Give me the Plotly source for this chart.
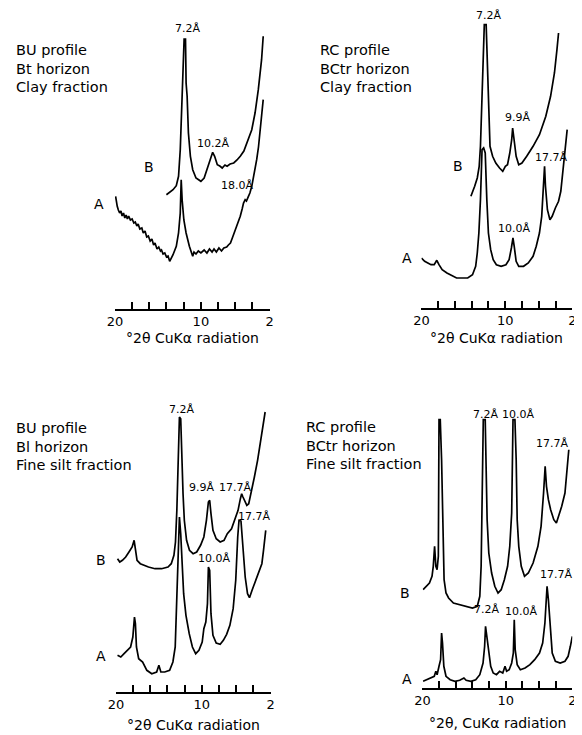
import plotly.graph_objects as go

W, H = 582, 735
OFF = 8  # the page body adds an 8 px margin; positions below are screen pixels

# ---------------- data (°2θ, relative intensity, arbitrary units) ----------------
tick_vals = [20, 18, 16, 14, 12, 10, 8, 6, 4, 2]
tick_text = ["20", "", "", "", "", "10", "", "", "", "2"]

# Panel 1: BU profile, Bt horizon, clay fraction
p1_a_x = [19.92, 19.8, 19.73, 19.6, 19.45, 19.3, 19.16, 19.0, 18.85, 18.7, 18.55, 18.4, 18.2, 18.0, 17.8,
          17.63, 17.45, 17.3, 17.1, 16.87, 16.7, 16.5, 16.3, 16.11, 15.9, 15.7, 15.5, 15.34, 15.1, 14.9,
          14.7, 14.58, 14.4, 14.2, 14.0, 13.82, 13.63, 13.24, 12.86, 12.6, 12.4, 12.29, 12.18, 11.98, 11.72,
          11.34, 11.1, 10.95, 10.8, 10.57, 10.3, 10.0, 9.62, 9.3, 9.0, 8.7, 8.47, 8.2, 7.9, 7.6, 7.33, 7.0,
          6.8, 6.56, 6.3, 5.99, 5.7, 5.42, 5.2, 5.04, 4.85, 4.7, 4.47, 4.3, 4.08, 3.8, 3.51, 3.3, 3.13, 2.95, 2.75]
p1_a_y = [112.7, 104, 102.7, 99, 96, 98, 93, 96, 91, 94, 90, 93, 89, 90, 86,
          87, 83, 85, 80, 81, 76, 78, 72, 73, 68, 70, 64, 66, 60, 62,
          58, 59, 55, 56, 52, 53, 47.7, 54.3, 62.7, 76, 96, 129.3, 109, 89, 76,
          62.7, 55, 52.7, 57, 55, 58, 56, 59, 56, 60, 57, 60, 57, 61, 58, 61, 62,
          64, 66, 72, 79.3, 86, 92.7, 100, 106, 109.3, 108, 112.7, 116, 122.7, 135, 149.3, 162, 176, 192, 209.3]
p1_b_x = [14.01, 13.63, 13.24, 12.86, 12.6, 12.4, 12.21, 12.06, 11.95, 11.79, 11.72, 11.6, 11.45, 11.22,
          10.95, 10.57, 10.0, 9.62, 9.16, 8.85, 8.63, 8.4, 8.09, 7.8, 7.52, 7.2, 6.95, 6.6, 6.18, 5.8, 5.42,
          5.0, 4.66, 4.08, 3.7, 3.32, 2.94, 2.75]
p1_b_y = [114.3, 116.7, 119.3, 123.3, 132.7, 159.3, 199.3, 242.7, 270, 270, 226, 212.7, 176, 152.7,
          139.3, 131, 127.7, 131, 142.7, 151, 156.7, 152.7, 144.3, 143, 141, 144, 142.7, 145, 146, 149, 152.7,
          158, 166, 179.3, 196, 219.3, 249.3, 272.7]

# Panel 2: RC profile, BCtr horizon, clay fraction
p2_a_x = [20.0, 19.62, 19.24, 18.86, 18.48, 18.17, 17.91, 17.53, 16.96, 16.39, 15.81, 15.24, 14.48, 13.91,
          13.53, 13.34, 13.15, 12.96, 12.77, 12.58, 12.39, 12.2, 12.01, 11.74, 11.44, 11.06, 10.49, 9.92, 9.54,
          9.27, 9.08, 8.93, 8.7, 8.39, 7.82, 7.25, 6.68, 6.3, 5.92, 5.65, 5.43, 5.31, 5.2, 4.97, 4.67, 4.4,
          4.02, 3.64, 3.37, 3.14, 2.88, 2.61]
p2_a_y = [50, 46.7, 45, 43.3, 43.3, 47.7, 43.3, 38.3, 35, 32.3, 30, 30, 30, 33.3,
          41.7, 55, 75, 108.3, 158.3, 160, 155, 108.3, 75, 58.3, 48.3, 43.3, 41.7, 43.3, 48.3,
          60, 70, 61.7, 46.7, 41.7, 41.7, 45, 51.7, 61.7, 75, 91.7, 121.7, 141.7, 121.7, 98.3, 88.3, 91.7,
          100, 106.7, 116.7, 135, 158.3, 178.3]
p2_b_x = [14.1, 13.91, 13.65, 13.34, 13.11, 12.96, 12.81, 12.66, 12.5, 12.28, 12.12, 11.97, 11.82, 11.51,
          11.13, 10.68, 10.3, 9.99, 9.73, 9.46, 9.23, 9.12, 8.96, 8.7, 8.39, 8.01, 7.44, 6.68, 5.92, 5.16,
          4.59, 4.13, 3.83, 3.64]
p2_b_y = [111.7, 115.7, 121.7, 130, 141.7, 161.7, 198.3, 248.3, 283.3, 283.3, 241.7, 191.7, 161.7, 151.7,
          145, 140, 136.7, 141.7, 143.3, 155, 168.3, 180, 168.3, 151.7, 143.3, 145, 151.7, 161.7, 173.3, 191.7,
          211.7, 235, 258.3, 275]

# Panel 3: BU profile, Bt horizon, fine silt fraction
p3_a_x = [19.81, 19.43, 19.05, 18.67, 18.29, 18.03, 17.84, 17.73, 17.61, 17.35, 16.89, 16.4, 15.83, 15.26,
          15.0, 14.77, 14.32, 13.75, 13.37, 13.1, 12.91, 12.76, 12.61, 12.46, 12.31, 12.12, 11.85, 11.47,
          11.1, 10.72, 10.34, 9.96, 9.77, 9.54, 9.35, 9.24, 9.09, 8.94, 8.71, 8.33, 7.87, 7.5, 7.12, 6.74,
          6.36, 6.06, 5.83, 5.68, 5.45, 5.22, 4.96, 4.69, 4.46, 4.16, 3.86, 3.52, 3.25, 3.02, 2.83, 2.57]
p3_a_y = [36.7, 35, 38.3, 41.7, 45, 55, 75, 68.3, 45, 33.3, 30, 21.7, 18.3, 20,
          26.7, 20, 20, 21.7, 30, 45, 98.3, 148.3, 175, 158.3, 125, 98.3, 76.7, 58.3,
          45, 38.3, 41.7, 50, 63.3, 70, 88.3, 125, 121.7, 78.3, 56.7, 49, 47.7, 51.7, 57.7, 66.7,
          83.3, 111.7, 155, 171.7, 171, 141.7, 115, 98.3, 94.3, 101.7, 109, 118.3, 123.3, 128.3, 141.7, 161.7]
p3_b_x = [19.81, 19.55, 19.24, 18.86, 18.48, 18.11, 17.88, 17.73, 17.54, 17.16, 16.78, 16.21, 15.45, 14.69,
          13.94, 13.56, 13.25, 13.07, 12.91, 12.76, 12.61, 12.46, 12.35, 12.19, 12.04, 11.78, 11.44, 11.02,
          10.6, 10.15, 9.77, 9.47, 9.24, 9.09, 8.94, 8.71, 8.33, 7.87, 7.42, 7.04, 6.55, 6.17, 5.79, 5.52,
          5.37, 5.22, 5.0, 4.77, 4.55, 4.27, 3.89, 3.52, 3.14, 2.87, 2.64]
p3_b_y = [133.3, 130, 131.7, 135, 140, 145, 151.7, 141.7, 131.7, 128.3, 126.7, 125, 123.3, 123.3,
          125, 128.3, 136.7, 150, 181.7, 231.7, 275, 273.3, 235, 198.3, 171.7, 151.7, 141.7, 138.3,
          140, 146.7, 155, 171.7, 190, 191.7, 178.3, 161.7, 153.3, 150, 151.7, 158.3, 163.3, 171.7, 181.7, 193.3,
          198.3, 195, 190, 186.7, 188.3, 198.3, 215, 231.7, 251.7, 268.3, 280]

# Panel 4: RC profile, BCtr horizon, fine silt fraction
p4_a_x = [19.92, 19.46, 18.97, 18.58, 18.39, 18.24, 18.01, 17.82, 17.7, 17.59, 17.43, 17.17, 16.67, 16.09,
          15.52, 15.02, 14.75, 14.18, 13.6, 13.11, 12.72, 12.53, 12.42, 12.26, 12.07, 11.8, 11.5, 11.11,
          10.73, 10.35, 10.08, 9.89, 9.58, 9.28, 9.08, 8.97, 8.86, 8.62, 8.24, 7.67, 7.09, 6.52, 5.94, 5.56,
          5.29, 5.14, 5.03, 4.87, 4.68, 4.41, 4.03, 3.45, 2.88, 2.5, 2.23, 2.0]
p4_a_y = [6.7, 8.3, 10, 11.7, 16.7, 13.3, 21.7, 28.3, 55, 45, 21.7, 11.7, 8.3, 6.7,
          7.7, 10, 7.7, 6.7, 8.3, 13.3, 25, 41.7, 61.7, 51.7, 35, 21.7, 15, 13.3,
          16.7, 15, 21.7, 16.7, 18.3, 25, 35, 68.3, 38.3, 23.3, 18.3, 20, 23.3, 28.3, 35, 45,
          65, 88.3, 101.7, 88.3, 61.7, 35, 26.7, 25, 26.7, 31.7, 41.7, 51.7]
p4_b_x = [19.92, 19.54, 19.16, 18.85, 18.7, 18.54, 18.39, 18.24, 18.09, 18.01, 17.86, 17.7, 17.55, 17.4,
          17.17, 16.86, 16.28, 15.52, 14.75, 13.99, 13.41, 13.11, 12.95, 12.8, 12.69, 12.46, 12.34, 12.23,
          12.03, 11.69, 11.31, 10.92, 10.54, 10.16, 9.77, 9.51, 9.28, 9.12, 8.89, 8.74, 8.62, 8.43, 8.13,
          7.74, 7.28, 6.71, 6.13, 5.75, 5.45, 5.26, 5.1, 4.87, 4.6, 4.22, 3.91, 3.65, 3.27, 2.88, 2.61, 2.42]
p4_b_y = [98.3, 101.7, 105, 111.7, 121.7, 141.7, 121.7, 118.3, 131.7, 268.3, 268.3, 228.3, 161.7, 108.3,
          95, 90, 85, 83.3, 81.7, 80, 81.7, 91.7, 121.7, 195, 268.3, 268.3, 228.3, 168.3,
          135, 115, 101.7, 95, 98.3, 108.3, 121.7, 141.7, 175, 268.3, 268.3, 228.3, 168.3, 141.7, 121.7,
          111.7, 115, 125, 141.7, 161.7, 195, 221.7, 201.7, 188.3, 178.3, 168.3, 165, 171.7, 181.7, 195, 218.3, 238.3]

# ---------------- layout geometry (screen pixels) ----------------
FONT = "DejaVu Sans"
panels = [
    dict(xa=(109, 267), axis_y=309, top=18, a=(p1_a_x, p1_a_y), b=(p1_b_x, p1_b_y),
         title=["BU profile", "Bt horizon", "Clay fraction"], tpos=(8, 50),
         xlabel="°2θ CuKα radiation", xl_y=338,
         labels=[("7.2Å", 183, 28), ("10.2Å", 209, 143), ("18.0Å", 234, 186), ("B", 144, 167), ("A", 93, 204)]),
    dict(xa=(422, 576), axis_y=308, top=18, a=(p2_a_x, p2_a_y), b=(p2_b_x, p2_b_y),
         title=["RC profile", "BCtr horizon", "Clay fraction"], tpos=(318, 50),
         xlabel="°2θ CuKα radiation", xl_y=338,
         labels=[("7.2Å", 490, 16), ("9.9Å", 520, 118), ("17.7Å", 554, 157), ("10.0Å", 516, 228),
                 ("B", 459, 166), ("A", 407, 258)]),
    dict(xa=(110, 268), axis_y=692, top=400, a=(p3_a_x, p3_a_y), b=(p3_b_x, p3_b_y),
         title=["BU profile", "Bl horizon", "Fine silt fraction"], tpos=(8, 428),
         xlabel="°2θ CuKα radiation", xl_y=725,
         labels=[("7.2Å", 177, 409), ("9.9Å", 197, 487), ("17.7Å", 232, 487), ("17.7Å", 251, 516),
                 ("10.0Å", 210, 558), ("B", 95, 560), ("A", 95, 656)]),
    dict(xa=(423, 576), axis_y=688, top=400, a=(p4_a_x, p4_a_y), b=(p4_b_x, p4_b_y),
         title=["RC profile", "BCtr horizon", "Fine silt fraction"], tpos=(304, 427),
         xlabel="°2θ, CuKα radiation", xl_y=723,
         labels=[("7.2Å", 487, 414), ("10.0Å", 521, 414), ("17.7Å", 555, 443), ("17.7Å", 559, 574),
                 ("7.2Å", 488, 609), ("10.0Å", 524, 611), ("B", 405, 593), ("A", 407, 679)]),
]


def sx(px):
    return (px - OFF) / W


def sy(py):
    return 1 - (py - OFF) / H


fig = go.Figure()
annotations = []
layout_axes = {}

for i, p in enumerate(panels, start=1):
    xs = "" if i == 1 else str(i)
    xa, ya = "x" + xs, "y" + xs
    for (cx, cy) in (p["a"], p["b"]):
        fig.add_trace(go.Scatter(x=cx, y=cy, mode="lines", xaxis=xa, yaxis=ya,
                                 line=dict(color="black", width=1.7), showlegend=False,
                                 hoverinfo="skip"))
    x0, x1 = p["xa"]
    layout_axes["xaxis" + xs] = dict(
        domain=[sx(x0), sx(x1)], range=[20, 2], anchor=ya,
        showline=True, linecolor="black", linewidth=1.6, mirror=False,
        ticks="inside", ticklen=7, tickwidth=1.5, tickcolor="black",
        tickvals=tick_vals, ticktext=tick_text, tickangle=0,
        tickfont=dict(family=FONT, size=13, color="black"),
        showgrid=False, zeroline=False, fixedrange=True)
    layout_axes["yaxis" + xs] = dict(
        domain=[sy(p["axis_y"]), sy(p["top"])],
        range=[0, p["axis_y"] - p["top"]], anchor=xa, visible=False, fixedrange=True)

    # x-axis caption
    annotations.append(dict(text=p["xlabel"], x=sx((x0 + x1) / 2), y=sy(p["xl_y"]),
                            xref="paper", yref="paper", showarrow=False, xanchor="center",
                            yanchor="middle", font=dict(family=FONT, size=14, color="black")))
    # panel description
    tx, ty = p["tpos"]
    for k, line in enumerate(p["title"]):
        annotations.append(dict(text=line, x=sx(tx - 2), y=sy(ty + k * 18.5),
                                xref="paper", yref="paper", showarrow=False, xanchor="left",
                                yanchor="middle", font=dict(family=FONT, size=14.5, color="black")))
    # peak / curve labels
    for (t, lx, ly) in p["labels"]:
        size = 14 if t in ("A", "B") else 11
        annotations.append(dict(text=t, x=sx(lx), y=sy(ly), xref="paper", yref="paper",
                                showarrow=False, xanchor="center", yanchor="middle",
                                font=dict(family=FONT, size=size, color="black")))

fig.update_layout(width=W, height=H, margin=dict(l=0, r=0, t=0, b=0),
                  paper_bgcolor="white", plot_bgcolor="white",
                  annotations=annotations, **layout_axes)

fig.write_html("out.html")
